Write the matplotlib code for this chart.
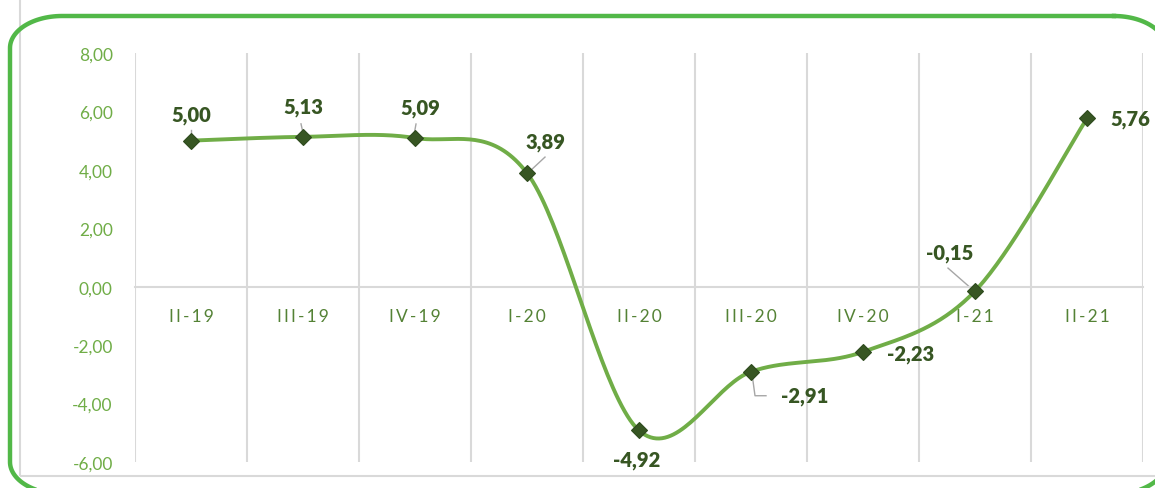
import numpy as np
import matplotlib
matplotlib.use('Agg')
import matplotlib.pyplot as plt
import matplotlib.transforms as mtransforms
from matplotlib.patches import Rectangle

quarters = ['II-19', 'III-19', 'IV-19', 'I-20', 'II-20', 'III-20', 'IV-20', 'I-21', 'II-21']
values = [5.00, 5.13, 5.09, 3.89, -4.92, -2.91, -2.23, -0.15, 5.76]
y_ticks = [-6, -4, -2, 0, 2, 4, 6, 8]

# label offsets from the point (pixels), and leader polylines
label_offsets = [(0, 26), (0, 30), (5, 31), (19, 32), (-2, -29), (54, -24), (48, -2), (-25, 39), (43, 0)]
leaders = {
    0: [(0, 11), (0, 4)],
    1: [(-2, 13), (0, 4)],
    2: [(1, 14), (-1, 3)],
    3: [(18, 16), (3, 2)],
    5: [(1, -2), (4, -24), (15, -24)],
    7: [(-27, 23), (-3, 2)],
}

line_green = '#70AD47'
dark_green = '#375623'
tick_green = '#548235'
grid_gray = '#D9D9D9'

plt.rcParams['font.family'] = ['Lato', 'DejaVu Sans']

W, H = 1155, 489
fig = plt.figure(figsize=(W / 100, H / 100), dpi=100)
pix = mtransforms.Affine2D().scale(1 / W, -1 / H).translate(0, 1) + fig.transFigure

# outer gray frame
fig.patches.append(Rectangle((20, 477), 1200, -500, transform=pix, fill=False, ec=grid_gray, lw=1.5))

# green rounded border (pixel coords, y down)
left, top, right, bottom, rx, ry = 10, 17, 1166, 495, 52, 32
a = np.linspace(0, np.pi / 2, 30)
bx, by = [], []
for cx, cy, a0 in [(right - rx, top + ry, -np.pi / 2), (right - rx, bottom - ry, 0),
                   (left + rx, bottom - ry, np.pi / 2), (left + rx, top + ry, np.pi)]:
    bx.extend(cx + rx * np.cos(a0 + a))
    by.extend(cy + ry * np.sin(a0 + a))
bx.append(bx[0])
by.append(by[0])
fig.add_artist(plt.Line2D(bx, by, transform=pix, color='#52B848', lw=3.2, zorder=5))

ax = fig.add_axes([135 / W, 1 - 463 / H, 1008 / W, 409 / H])
ax.set_xlim(-0.5, len(quarters) - 0.5)
ax.set_ylim(-6, 8)

# smoothed line (Excel-style bezier through the points)
x = np.arange(len(values), dtype=float)
y = np.array(values)
px = np.concatenate([[x[0]], x, [x[-1]]])
py = np.concatenate([[y[0]], y, [y[-1]]])
t = np.linspace(0, 1, 40)
sx, sy = [], []
for i in range(len(values) - 1):
    p0 = np.array([x[i], y[i]])
    p3 = np.array([x[i + 1], y[i + 1]])
    p1 = p0 + (np.array([px[i + 2], py[i + 2]]) - np.array([px[i], py[i]])) / 6
    p2 = p3 - (np.array([px[i + 3], py[i + 3]]) - np.array([px[i + 1], py[i + 1]])) / 6
    b = ((1 - t) ** 3)[:, None] * p0 + (3 * (1 - t) ** 2 * t)[:, None] * p1 \
        + (3 * (1 - t) * t ** 2)[:, None] * p2 + (t ** 3)[:, None] * p3
    sx.extend(b[:, 0])
    sy.extend(b[:, 1])
ax.plot(sx, sy, color=line_green, lw=2.8, solid_capstyle='round', zorder=3)
ax.plot(x, y, linestyle='none', marker='D', ms=8, mfc=dark_green, mec='#2E4A1E', mew=0.8, zorder=4)

for i, v in enumerate(values):
    dx, dy = label_offsets[i]
    ax.annotate(f'{v:.2f}'.replace('.', ','), (i, v), xytext=(dx, dy), textcoords='offset pixels',
                ha='center', va='center', fontsize=14.5, fontweight='heavy', color=dark_green, zorder=6)
    if i in leaders:
        pts = np.array(leaders[i], dtype=float)
        tr = mtransforms.ScaledTranslation(i, v, ax.transData)
        ax.plot(pts[:, 0], pts[:, 1], color='#A6A6A6', lw=1, transform=tr, zorder=2)

# axes styling
for s in ['top', 'left', 'right']:
    ax.spines[s].set_visible(False)
ax.spines['bottom'].set_position(('data', 0))
ax.spines['bottom'].set_color(grid_gray)
ax.spines['bottom'].set_linewidth(1.5)
ax.set_xticks(x)
ax.set_xticklabels(['\u2009'.join(q) for q in quarters], color=tick_green, fontsize=12.5)
ax.set_xticks(np.arange(-0.5, len(quarters)), minor=True)
ax.tick_params(axis='x', which='both', length=0, pad=15)
ax.grid(which='minor', axis='x', color=grid_gray, lw=1.5)
ax.set_yticks(y_ticks)
ax.set_yticklabels([f'{v:.2f}'.replace('.', ',') for v in y_ticks], color=line_green, fontsize=12.5)
ax.tick_params(axis='y', length=0, pad=16)

fig.savefig('out.png', dpi=100)
